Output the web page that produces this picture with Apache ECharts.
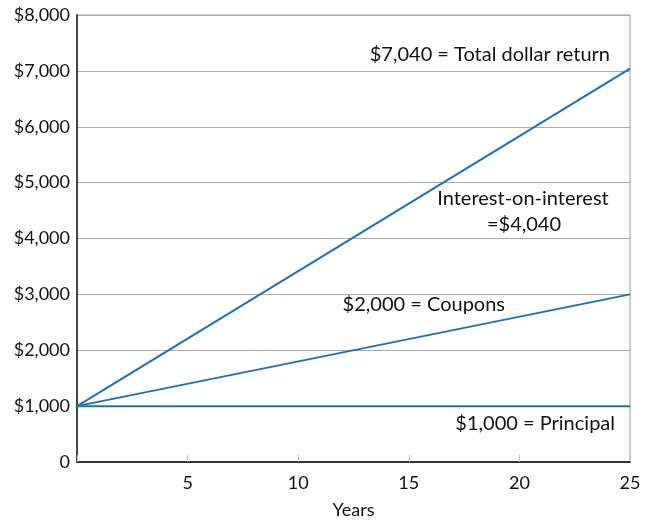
<!DOCTYPE html>
<html><head><meta charset="utf-8">
<script src="https://cdn.jsdelivr.net/npm/echarts@6/dist/echarts.min.js"></script>
<style>html,body{margin:0;padding:0;background:#fff}#c{width:647px;height:521px}</style>
</head><body><div id="c"></div>
<script>
const years = [0, 25];
const totalReturn = [1000, 7040];
const coupons = [1000, 3000];
const principal = [1000, 1000];
const yTicks = [0, 1000, 2000, 3000, 4000, 5000, 6000, 7000, 8000];
const xTicks = [0, 5, 10, 15, 20, 25];
const labels = {
  total: '$7,040 = Total dollar return',
  interest1: 'Interest-on-interest',
  interest2: '=$4,040',
  coupons: '$2,000 = Coupons',
  principal: '$1,000 = Principal'
};
const FONT = 'Lato, "Open Sans", sans-serif';
const LINE = '#1f70b0';
const chart = echarts.init(document.getElementById('c'));
const pair = (xs, ys) => xs.map((x, i) => [x, ys[i]]);
const fmtMoney = v => v === 0 ? '0' : '$' + v.toLocaleString('en-US');
const txt = (text, x, y, align) => ({type: 'text', x: x, y: y,
  style: {text: text, font: '20px ' + FONT, fill: '#111', textAlign: align, textVerticalAlign: 'middle'}});
chart.setOption({
  animation: false,
  grid: {left: 77, right: 17, top: 15, bottom: 59, show: true, borderColor: '#999', borderWidth: 1,
    containLabel: false, outerBoundsMode: 'none'},
  xAxis: {
    type: 'value', min: xTicks[0], max: xTicks[xTicks.length - 1], interval: 5,
    name: 'Years', nameLocation: 'middle', nameGap: 39,
    nameTextStyle: {fontFamily: FONT, fontSize: 18, color: '#111'},
    axisLine: {lineStyle: {color: '#333', width: 2}},
    axisTick: {inside: true, length: 7, lineStyle: {color: '#bbb'}},
    axisLabel: {fontFamily: FONT, fontSize: 18, color: '#111', margin: 12,
      formatter: v => v === 0 ? '' : String(v)},
    splitLine: {show: false}
  },
  yAxis: {
    type: 'value', min: yTicks[0], max: yTicks[yTicks.length - 1], interval: 1000,
    axisLine: {show: true, lineStyle: {color: '#444', width: 2}},
    axisTick: {show: false},
    axisLabel: {fontFamily: FONT, fontSize: 18, color: '#111', margin: 7, formatter: fmtMoney},
    splitLine: {lineStyle: {color: '#aaa', width: 1}}
  },
  series: [
    {type: 'line', data: pair(years, totalReturn), symbol: 'none', lineStyle: {color: LINE, width: 2}},
    {type: 'line', data: pair(years, coupons), symbol: 'none', lineStyle: {color: LINE, width: 2}},
    {type: 'line', data: pair(years, principal), symbol: 'none', lineStyle: {color: LINE, width: 2}}
  ],
  graphic: [
    txt(labels.total, 610, 55, 'right'),
    txt(labels.interest1, 523, 199, 'center'),
    txt(labels.interest2, 524, 225, 'center'),
    txt(labels.coupons, 505, 305, 'right'),
    txt(labels.principal, 615, 424, 'right')
  ]
});
</script></body></html>
